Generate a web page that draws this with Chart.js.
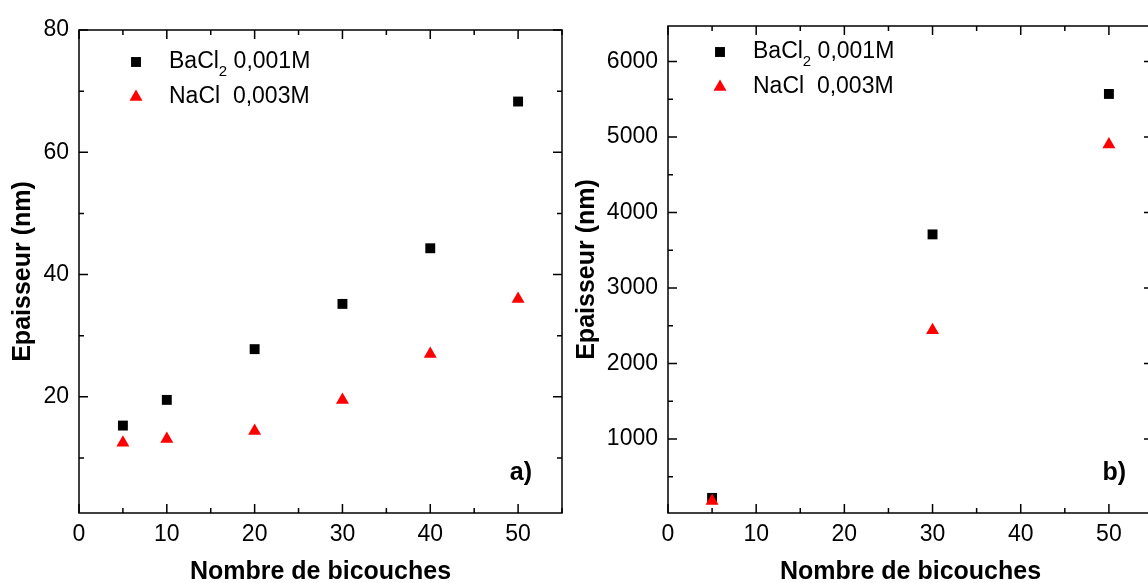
<!DOCTYPE html>
<html>
<head>
<meta charset="utf-8">
<script src="https://cdn.jsdelivr.net/npm/chart.js@4.4.1/dist/chart.umd.min.js"></script>
<style>
  html, body { margin: 0; padding: 0; background: #fff; overflow: hidden; width: 1148px; height: 583px; }
  .box { position: absolute; top: 0; height: 583px; }
  #boxA { left: 0; width: 575px; }
  #boxB { left: 575px; width: 590px; }
</style>
</head>
<body>
<div class="box" id="boxA"><canvas id="chartA"></canvas></div>
<div class="box" id="boxB"><canvas id="chartB"></canvas></div>
<script>
// panel a)
const bicouchesA = [5, 10, 20, 30, 40, 50];
const bacl2A = [15.3, 19.5, 27.8, 35.2, 44.3, 68.3];
const naclA = [12.5, 13.1, 14.4, 19.5, 27.0, 36.0];
// panel b)
const bicouchesB = [5, 30, 50];
const bacl2B = [220, 3710, 5570];
const naclB = [180, 2440, 4900];

const xTicks = [0, 10, 20, 30, 40, 50];
const yTicksA = [20, 40, 60, 80];
const yTicksB = [1000, 2000, 3000, 4000, 5000, 6000];
const legendA = ['BaCl', '2', ' 0,001M'];
const legendB = 'NaCl  0,003M';

const FONT = "'Liberation Sans', Arial, sans-serif";

// Origin-style box with inward major/minor ticks, legend and panel letter
const framePlugin = {
  id: 'frame',
  afterDraw(chart, args, opts) {
    const { ctx, chartArea: { left, right, top, bottom }, scales: { x, y } } = chart;
    ctx.save();
    ctx.strokeStyle = '#000';
    ctx.lineWidth = 1.5;
    ctx.strokeRect(left, top, right - left, bottom - top);

    const minors = (vals, min, max) => {
      const step = vals[1] - vals[0];
      const out = [];
      for (let v = vals[0] - step / 2; v <= max; v += step) if (v >= min) out.push(v);
      return out;
    };
    const drawX = (vals, len) => vals.forEach(v => {
      const px = x.getPixelForValue(v);
      ctx.beginPath();
      ctx.moveTo(px, bottom); ctx.lineTo(px, bottom - len);
      ctx.moveTo(px, top); ctx.lineTo(px, top + len);
      ctx.stroke();
    });
    const drawY = (vals, len) => vals.forEach(v => {
      const py = y.getPixelForValue(v);
      ctx.beginPath();
      ctx.moveTo(left, py); ctx.lineTo(left + len, py);
      ctx.moveTo(right, py); ctx.lineTo(right - len, py);
      ctx.stroke();
    });
    const xv = x.ticks.map(t => t.value);
    const yv = y.ticks.map(t => t.value);
    drawX(xv, 9);
    drawX(minors(xv, x.min, x.max), 5);
    drawY(yv, 9);
    drawY(minors(yv, y.min, y.max), 5);

    // legend
    const lx = left + opts.legendX, ly = top + opts.legendY;
    const ds = chart.data.datasets;
    ctx.fillStyle = ds[0].backgroundColor;
    Chart.helpers.drawPoint(ctx, { pointStyle: 'rect', radius: 7, rotation: 0 }, lx, ly);
    ctx.fillStyle = ds[1].backgroundColor;
    Chart.helpers.drawPoint(ctx, { pointStyle: 'triangle', radius: 7.5, rotation: 0 }, lx, ly + 35);

    ctx.fillStyle = '#000';
    ctx.textBaseline = 'middle';
    ctx.textAlign = 'left';
    ctx.font = '23px ' + FONT;
    let tx = lx + 33;
    ctx.fillText(legendA[0], tx, ly);
    tx += ctx.measureText(legendA[0]).width;
    ctx.font = '15px ' + FONT;
    ctx.fillText(legendA[1], tx, ly + 10);
    tx += ctx.measureText(legendA[1]).width;
    ctx.font = '23px ' + FONT;
    ctx.fillText(legendA[2], tx, ly);
    ctx.fillText(legendB, lx + 33, ly + 35);

    // panel letter
    ctx.font = 'bold 25px ' + FONT;
    ctx.textAlign = 'right';
    ctx.fillText(opts.letter, right - opts.letterDX, bottom - 40);
    ctx.restore();
  }
};

function makeChart(id, xs, s1, s2, yMin, yMax, yTicks, lay) {
  const ctx = document.getElementById(id);
  return new Chart(ctx, {
    type: 'scatter',
    data: {
      datasets: [
        { label: 'BaCl2 0,001M', data: xs.map((v, i) => ({ x: v, y: s1[i] })), order: 1,
          pointStyle: 'rect', pointRadius: 7, backgroundColor: '#000', borderColor: '#000', borderWidth: 0 },
        { label: 'NaCl 0,003M', data: xs.map((v, i) => ({ x: v, y: s2[i] })), order: 0,
          pointStyle: 'triangle', pointRadius: 7.5, backgroundColor: '#ff0000', borderColor: '#ff0000', borderWidth: 0 }
      ]
    },
    options: {
      responsive: true,
      maintainAspectRatio: false,
      animation: false,
      layout: { padding: { top: lay.top, right: lay.right, left: 0, bottom: 0 } },
      plugins: {
        legend: { display: false },
        tooltip: { enabled: false },
        frame: { legendX: lay.legendX, legendY: lay.legendY, letter: lay.letter, letterDX: lay.letterDX }
      },
      scales: {
        x: {
          type: 'linear', min: 0, max: 55,
          grid: { display: false, drawTicks: false },
          border: { display: false },
          afterBuildTicks: s => { s.ticks = xTicks.map(v => ({ value: v })); },
          afterFit: s => { s.height = 70; },
          ticks: { color: '#000', font: { family: FONT, size: 23 }, padding: 8, maxRotation: 0,
                   callback: v => String(v) },
          title: { display: true, text: 'Nombre de bicouches', color: '#000',
                   font: { family: FONT, size: 25, weight: 'bold', lineHeight: 0.9 }, padding: { top: 0, bottom: 0 } }
        },
        y: {
          type: 'linear', min: yMin, max: yMax,
          grid: { display: false, drawTicks: false },
          border: { display: false },
          afterBuildTicks: s => { s.ticks = yTicks.map(v => ({ value: v })); },
          afterFit: s => { s.width = lay.yWidth; },
          ticks: { color: '#000', font: { family: FONT, size: 23 }, padding: 10,
                   callback: v => String(v) },
          title: { display: true, text: 'Epaisseur (nm)', color: '#000',
                   font: { family: FONT, size: 25, weight: 'bold', lineHeight: 1 }, padding: { top: lay.titlePad, bottom: 0 } }
        }
      }
    },
    plugins: [framePlugin]
  });
}

makeChart('chartA', bicouchesA, bacl2A, naclA, 1, 80, yTicksA,
  { top: 30, right: 13, yWidth: 79, titlePad: 10.5, legendX: 57, legendY: 32, letter: 'a)', letterDX: 30 });
makeChart('chartB', bicouchesB, bacl2B, naclB, 20, 6470, yTicksB,
  { top: 26, right: 12, yWidth: 93, titlePad: 0, legendX: 52, legendY: 26, letter: 'b)', letterDX: 27 });
</script>
</body>
</html>
